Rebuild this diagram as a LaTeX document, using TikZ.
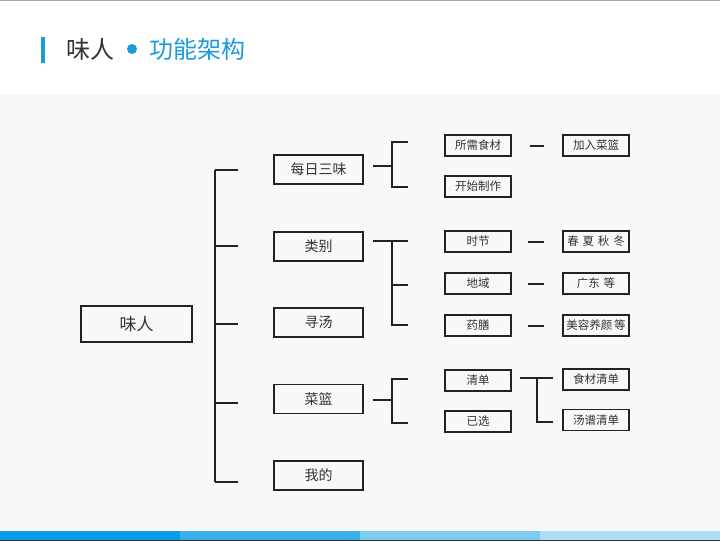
\documentclass[tikz,border=0pt]{standalone}
\usepackage{fontspec}
\newfontfamily\cjk{Noto Sans CJK SC}
\definecolor{bodybg}{HTML}{F8F8F8}
\definecolor{accent}{HTML}{1A9BDE}
\definecolor{titlegray}{HTML}{333333}
\definecolor{ink}{HTML}{222222}
\definecolor{barA}{HTML}{0B9BE6}
\definecolor{barB}{HTML}{3AB0EA}
\definecolor{barC}{HTML}{7DCCF0}
\definecolor{barD}{HTML}{AEDFF5}
\tikzset{
  box/.style={draw=ink, line width=1.6pt, inner sep=0pt, text=titlegray, font=\cjk},
  rootbox/.style={box, minimum width=111, minimum height=36, font=\cjk\fontsize{17}{17}\selectfont},
  mainbox/.style={box, minimum width=89, minimum height=29, font=\cjk\fontsize{14}{14}\selectfont},
  leafbox/.style={box, minimum width=66, minimum height=21, font=\cjk\fontsize{11.5}{12}\selectfont},
  link/.style={draw=ink, line width=2pt},
}
\begin{document}
\begin{tikzpicture}[x=1pt,y=-1pt]
\useasboundingbox (0,0) rectangle (720,541);
% page background and header
\fill[white] (0,0) rectangle (720,95);
\fill[bodybg] (0,95) rectangle (720,531);
\draw[color=black!35, line width=1.2pt] (0,0.6) -- (720,0.6);
\fill[accent] (41,37) rectangle (45,63);
\node[anchor=west, text=titlegray, font=\cjk\fontsize{24}{24}\selectfont, inner sep=0] (ttl) at (66,49) {味人};
\fill[accent] (132,49) circle (5);
\node[anchor=west, text=accent, font=\cjk\fontsize{24}{24}\selectfont, inner sep=0] (sub) at (149,49) {功能架构};
% footer stripes
\fill[barA] (0,531) rectangle (180,539.5);
\fill[barB] (180,531) rectangle (360,539.5);
\fill[barC] (360,531) rectangle (540,539.5);
\fill[barD] (540,531) rectangle (720,539.5);
\fill[black!80] (0,539.5) rectangle (720,541);

% root and first level
\node[rootbox] (root) at (136.5,324) {味人};
\node[mainbox] (daily) at (318.5,169.5) {每日三味};
\node[mainbox] (cat)   at (318.5,246.5) {类别};
\node[mainbox] (soup)  at (318.5,322.5) {寻汤};
\node[mainbox] (bask)  at (318.5,399)   {菜篮};
\node[mainbox] (mine)  at (318.5,475.5) {我的};

% second level
\node[leafbox] (need)  at (478,145.5) {所需食材};
\node[leafbox] (start) at (478,186.5) {开始制作};
\node[leafbox] (season) at (478,241.5) {时节};
\node[leafbox] (region) at (478,283.5) {地域};
\node[leafbox] (herb)   at (478,325.5) {药膳};
\node[leafbox] (list)   at (478,380.5) {清单};
\node[leafbox] (chosen) at (478,421.5) {已选};

% third level
\node[leafbox] (add)    at (596,145.5) {加入菜篮};
\node[leafbox] (seasons) at (596,241.5) {春\,\,夏\,\,秋\,\,冬};
\node[leafbox] (gd)     at (596,283.5) {广东\,\,等};
\node[leafbox] (beauty) at (596,325.5) {美容养颜\,等};
\node[leafbox] (ingr)   at (596,379.5) {食材清单};
\node[leafbox] (recipe) at (596,420)   {汤谱清单};

% main bracket
\coordinate (trunkTop) at (215,170);
\coordinate (trunkBot) at (215,482);
\draw[link] (trunkTop) -- (trunkBot);
\foreach \yy in {170,246,324,403,482}
  \draw[link] (215,\yy) -- (238,\yy);

% bracket of 每日三味
\coordinate (dj) at (392,166);
\draw[link] (daily.east |- dj) ++(9,0) -- (dj);
\draw[link] (392,142) -- (392,187);
\draw[link] (391,142) -- (408,142);
\draw[link] (391,187) -- (408,187);

% bracket of 类别
\coordinate (cj) at (392,241);
\draw[link] (cat.east |- cj) ++(9,0) -- (408,241);
\draw[link] (392,240) -- (392,325);
\draw[link] (392,285) -- (408,285);
\draw[link] (391,325) -- (408,325);

% bracket of 菜篮
\coordinate (bj) at (392,400);
\draw[link] (bask.east |- bj) ++(9,0) -- (bj);
\draw[link] (392,379) -- (392,423);
\draw[link] (391,379) -- (408,379);
\draw[link] (391,423) -- (408,423);

% dashes between second and third level
\draw[link, shorten <=18pt, shorten >=18pt] (need) -- (add);
\draw[link, shorten <=16pt, shorten >=18pt] (season) -- (seasons);
\draw[link, shorten <=16pt, shorten >=18pt] (region) -- (gd);
\draw[link, shorten <=16pt, shorten >=18pt] (herb) -- (beauty);

% bracket of 清单
\coordinate (lj) at (537,378);
\draw[link] (list.east |- lj) ++(8,0) -- (553,378);
\draw[link] (537,377) -- (537,422);
\draw[link] (536,422) -- (553,422);
\end{tikzpicture}
\end{document}
